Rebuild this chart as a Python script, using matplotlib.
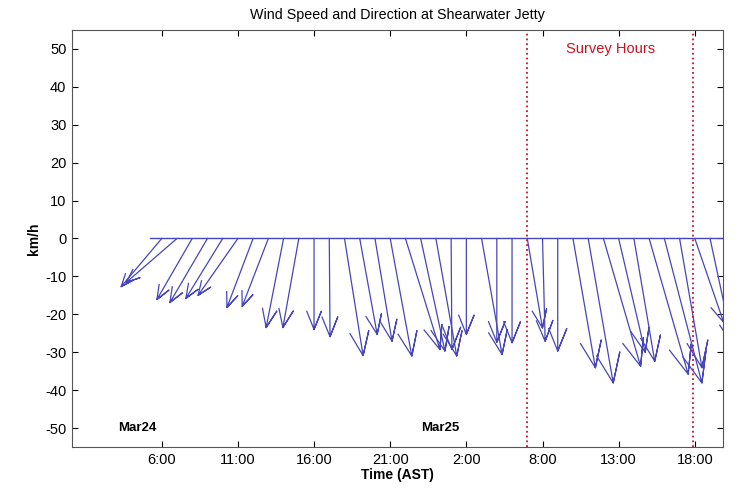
import numpy as np
import matplotlib
matplotlib.use("Agg")
import matplotlib.pyplot as plt

# hour index counted from Mar24 00:00 (AST)
hours = list(range(6, 43))
# wind components in km/h (east, north)
u = [-10.7, -13.4, -9.3, -9.9, -9.7, -10.5, -6.9, -6.9, -4.6, -4.2, 0.0, 0.2,
     4.9, 4.6, 4.5, 5.7, 9.1, 6.4, 5.5, 0.2, 0.0, 5.4, 0.0, 0.0, 4.0, 0.7,
     0.0, 5.9, 6.6, 9.8, 7.0, 5.5, 10.3, 9.9, 5.9, 7.6, 6.0]
v = [-12.7, -11.6, -16.1, -16.9, -15.8, -15.0, -18.2, -17.9, -23.5, -23.5, -24.0, -25.9,
     -30.9, -25.3, -27.1, -31.0, -29.3, -29.7, -31.0, -29.3, -25.3, -30.6, -27.4, -27.5, -23.6, -27.1,
     -29.7, -34.1, -38.1, -33.7, -30.0, -32.4, -35.8, -38.1, -34.1, -22.1, -28.0]

tick_pos = [6, 11, 16, 21, 26, 31, 36, 41]
tick_labels = ['6:00', '11:00', '16:00', '21:00', '2:00', '8:00', '13:00', '18:00']
yticks = list(range(-50, 51, 10))
survey_start = 30.0
survey_end = 40.9
day_labels = ['Mar24', 'Mar25']
day_pos = [4.4, 24.3]
line_start = 5.25

plt.rcParams['font.family'] = ['Liberation Sans', 'DejaVu Sans']
plt.rcParams['axes.unicode_minus'] = False

fig = plt.figure(figsize=(7.41, 4.90), dpi=100)
ax = fig.add_axes([0.0972, 0.0878, 0.8785, 0.851])
xlim = (0.11, 42.85)
ylim = (-55, 55)
ax.set_xlim(xlim)
ax.set_ylim(ylim)

# feather arrows like matlab: head is 0.2 of the length, drawn in screen-isotropic units
pos = ax.get_position()
w_px = pos.width * fig.get_figwidth() * fig.dpi
h_px = pos.height * fig.get_figheight() * fig.dpi
k = (h_px / (ylim[1] - ylim[0])) / (w_px / (xlim[1] - xlim[0]))

shape = np.array([0, 1, 0.8, 1, 0.8]) + 1j * np.array([0, 0, 0.08, 0, -0.08])
col = '#4646b9'
ax.plot([line_start, hours[-1] + 1], [0, 0], color=col, lw=1.0)
for t, a, b in zip(hours, u, v):
    pts = shape * complex(a, b)
    ax.plot(t + pts.real * k, pts.imag, color=col, lw=0.9)

for xs in [survey_start, survey_end]:
    ax.axvline(xs, color='#cc1030', ls=':', lw=1.3)
ax.text((survey_start + survey_end) / 2, 50, 'Survey Hours', color='#cc1020',
        ha='center', va='center', fontsize=10.5)

for lab, xp in zip(day_labels, day_pos):
    ax.text(xp, -50, lab, ha='center', va='center', fontsize=9.5, fontweight='bold')

ax.set_xticks(tick_pos)
ax.set_xticklabels(tick_labels)
ax.set_yticks(yticks)
ax.tick_params(labelsize=10.5, direction='in', top=True, right=True, length=4, pad=4)
ax.set_xlabel('Time (AST)', fontsize=10, fontweight='bold', labelpad=1)
ax.set_ylabel('km/h', fontsize=10, fontweight='bold', labelpad=3)
ax.set_title('Wind Speed and Direction at Shearwater Jetty', fontsize=10.3, pad=8)
for s in ax.spines.values():
    s.set_color('#555555')

fig.savefig('out.png', dpi=100)
